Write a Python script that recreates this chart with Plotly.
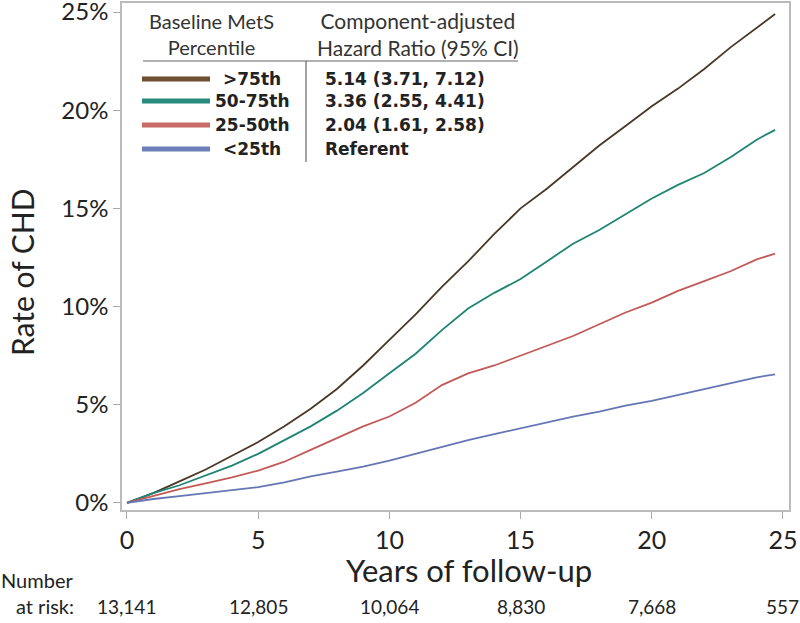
import plotly.graph_objects as go

years = [0, 1, 2, 3, 4, 5, 6, 7, 8, 9, 10, 11, 12, 13, 14, 15, 16, 17, 18, 19, 20, 21, 22, 23, 24, 24.7]
rate_gt75 = [0, 0.5, 1.1, 1.7, 2.4, 3.1, 3.9, 4.8, 5.8, 7.0, 8.3, 9.6, 11.0, 12.3, 13.7, 15.0, 16.0, 17.1, 18.2, 19.2, 20.2, 21.1, 22.1, 23.2, 24.2, 24.9]
rate_50_75 = [0, 0.5, 0.9, 1.4, 1.9, 2.5, 3.2, 3.9, 4.7, 5.6, 6.6, 7.6, 8.8, 9.9, 10.7, 11.4, 12.3, 13.2, 13.9, 14.7, 15.5, 16.2, 16.8, 17.6, 18.5, 19.0]
rate_25_50 = [0, 0.35, 0.7, 1.0, 1.3, 1.65, 2.1, 2.7, 3.3, 3.9, 4.4, 5.1, 6.0, 6.6, 7.0, 7.5, 8.0, 8.5, 9.1, 9.7, 10.2, 10.8, 11.3, 11.8, 12.4, 12.7]
rate_lt25 = [0, 0.2, 0.35, 0.5, 0.65, 0.8, 1.05, 1.35, 1.6, 1.85, 2.15, 2.5, 2.85, 3.2, 3.5, 3.8, 4.1, 4.4, 4.65, 4.95, 5.2, 5.5, 5.8, 6.1, 6.4, 6.55]

group_labels = [">75th", "50-75th", "25-50th", "<25th"]
hazard_ratios = ["5.14 (3.71, 7.12)", "3.36 (2.55, 4.41)", "2.04 (1.61, 2.58)", "Referent"]
line_colors = ["#4a3726", "#1f8474", "#c25a58", "#6676b5"]
swatch_colors = ["#6e4f30", "#278a7c", "#c86a65", "#6d80ba"]

risk_years = [0, 5, 10, 15, 20, 25]
risk_counts = ["13,141", "12,805", "10,064", "8,830", "7,668", "557"]

x_ticks = [0, 5, 10, 15, 20, 25]
y_ticks = [0, 5, 10, 15, 20, 25]
y_tick_text = ["0%", "5%", "10%", "15%", "20%", "25%"]

series = [rate_gt75, rate_50_75, rate_25_50, rate_lt25]

fig = go.Figure()
for vals, col, name in zip(series, line_colors, group_labels):
    fig.add_trace(go.Scatter(x=years, y=vals, mode="lines", name=name,
                             line=dict(color=col, width=1.8), showlegend=False))

FONT = "Lato"
L, R, T, B = 122, 11, 3, 113
W, H = 800, 623
pw, ph = W - L - R, H - T - B

def px(xp):
    return (xp - L) / pw

def py(yp):
    return (H - B - yp) / ph

fig.update_layout(
    width=W, height=H,
    margin=dict(l=L, r=R, t=T, b=B, autoexpand=False),
    plot_bgcolor="white", paper_bgcolor="white",
    font=dict(family=FONT, color="#222"),
)
fig.update_xaxes(range=[-0.19, 25.23], tickvals=x_ticks, ticks="outside", ticklen=7, automargin=False,
                 ticklabeloverflow="allow",
                 tickcolor="#aaa", showline=True, linecolor="#bbb", linewidth=1.5, mirror=True,
                 showgrid=False, zeroline=False, tickfont=dict(size=25, family=FONT, color="#222"))
fig.update_yaxes(range=[-0.36, 25.46], tickvals=y_ticks, ticktext=y_tick_text, ticks="outside", ticklen=7,
                 automargin=False, ticklabeloverflow="allow",
                 tickcolor="#aaa", showline=True, linecolor="#bbb", linewidth=1.5, mirror=True,
                 showgrid=False, zeroline=False, tickfont=dict(size=24, family=FONT, color="#222"))

ann = []
ann.append(dict(text="Rate of CHD", x=px(22), xref="paper", y=py(272), yref="paper", textangle=-90,
                xanchor="center", yanchor="middle", showarrow=False,
                font=dict(size=30, family=FONT, color="#222")))
ann.append(dict(text="Years of follow-up", x=px(469), xref="paper", y=py(570), yref="paper",
                xanchor="center", yanchor="middle", showarrow=False,
                font=dict(size=31, family=FONT, color="#222")))
ann.append(dict(text="Number", x=px(-1), xref="paper", y=py(580), yref="paper", xanchor="left",
                yanchor="middle", showarrow=False, font=dict(size=20, family=FONT, color="#222")))
ann.append(dict(text="at risk:", x=px(76), xref="paper", y=py(606), yref="paper", xanchor="right",
                yanchor="middle", showarrow=False, font=dict(size=20, family=FONT, color="#222")))
for yr, cnt in zip(risk_years, risk_counts):
    ann.append(dict(text=cnt, x=yr, xref="x", y=py(606), yref="paper", xanchor="center",
                    yanchor="middle", showarrow=False, font=dict(size=19, family=FONT, color="#222")))

ann.append(dict(text="Baseline MetS<br>Percentile", x=px(211), xref="paper", y=py(34), yref="paper",
                xanchor="center", yanchor="middle", showarrow=False, align="center",
                font=dict(size=20, family=FONT, color="#333")))
ann.append(dict(text="Component-adjusted<br>Hazard Ratio (95% CI)", x=px(418), xref="paper", y=py(34),
                yref="paper", xanchor="center", yanchor="middle", showarrow=False, align="center",
                font=dict(size=21, family=FONT, color="#333")))

shapes = []
shapes.append(dict(type="line", xref="paper", yref="paper", x0=px(143), x1=px(518), y0=py(61), y1=py(61),
                   line=dict(color="#666", width=1.2)))
shapes.append(dict(type="line", xref="paper", yref="paper", x0=px(306), x1=px(306), y0=py(61), y1=py(162),
                   line=dict(color="#666", width=1.2)))

row_y = [79, 101, 125, 149]
for lab, hr, sc, ry in zip(group_labels, hazard_ratios, swatch_colors, row_y):
    shapes.append(dict(type="line", xref="paper", yref="paper", x0=px(142), x1=px(210), y0=py(ry), y1=py(ry),
                       line=dict(color=sc, width=5)))
    ann.append(dict(text="<b>" + lab + "</b>", x=px(252), xref="paper", y=py(ry), yref="paper",
                    xanchor="center", yanchor="middle", showarrow=False,
                    font=dict(size=17, family="DejaVu Sans", color="#222")))
    ann.append(dict(text="<b>" + hr + "</b>", x=px(323), xref="paper", y=py(ry), yref="paper",
                    xanchor="left", yanchor="middle", showarrow=False,
                    font=dict(size=17, family="DejaVu Sans", color="#222")))

fig.update_layout(annotations=ann, shapes=shapes)
fig.write_html("out.html", config={"displayModeBar": False},
               post_script="document.body.style.margin='0';document.body.style.overflow='hidden';")
